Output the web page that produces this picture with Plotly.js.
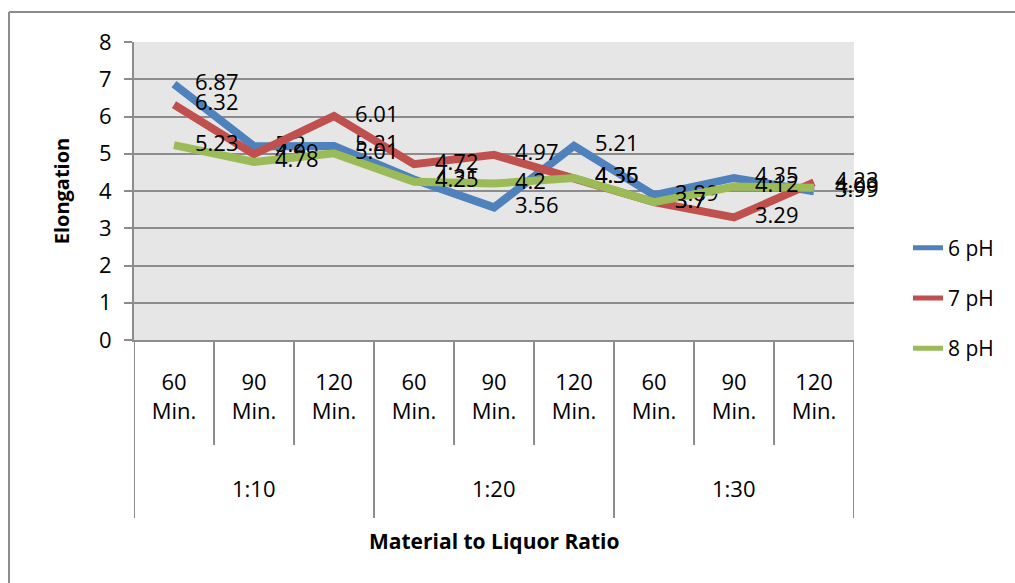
<!DOCTYPE html>
<html>
<head>
<meta charset="utf-8">
<script src="https://cdn.plot.ly/plotly-3.0.1.min.js"></script>
<style>html,body{margin:0;padding:0;background:#fff;}#chart{width:1015px;height:583px;}</style>
</head>
<body>
<div id="chart"></div>
<script>
// Data
const timeLabels = ["60<br>Min.", "90<br>Min.", "120<br>Min.", "60<br>Min.", "90<br>Min.", "120<br>Min.", "60<br>Min.", "90<br>Min.", "120<br>Min."];
const ratioGroups = ["1:10", "1:20", "1:30"];
const groupSize = 3;
const pH6 = [6.87, 5.2, 5.21, 4.31, 3.56, 5.21, 3.89, 4.35, 3.99];
const pH7 = [6.32, 4.99, 6.01, 4.72, 4.97, 4.36, 3.7, 3.29, 4.23];
const pH8 = [5.23, 4.78, 5.01, 4.25, 4.2, 4.35, 3.7, 4.12, 4.09];
const seriesNames = ["6 pH", "7 pH", "8 pH"];
const seriesColors = ["#4F81BD", "#C0504D", "#9BBB59"];

const FONT = "Open Sans, Noto Sans, sans-serif";
const xs = timeLabels.map((_, i) => i);

function mk(vals, idx) {
  return {
    x: xs, y: vals, name: seriesNames[idx], type: "scatter",
    mode: "lines+markers+text",
    line: {color: seriesColors[idx], width: 8},
    marker: {size: 32, color: "rgba(0,0,0,0)"},
    text: vals.map(v => String(v)),
    textposition: "middle right",
    textfont: {family: FONT, size: 22, color: "#000"},
    cliponaxis: false,
    showlegend: false
  };
}
function legendEntry(idx) {
  return {
    x: [null], y: [null], name: seriesNames[idx], type: "scatter", mode: "lines",
    line: {color: seriesColors[idx], width: 5}, showlegend: true, legendgroup: "g" + idx
  };
}
const data = [mk(pH6, 0), mk(pH7, 1), mk(pH8, 2), legendEntry(0), legendEntry(1), legendEntry(2)];

// plot area px: left 134, right 854, top 42, bottom 340
const plotH = 298;
const py = p => (340 - p) / plotH;
const px = p => (p - 134) / 720;

const shapes = [];
const n = timeLabels.length;
for (let k = 0; k <= n; k++) {
  const isGroup = (k % groupSize === 0);
  shapes.push({type: "line", xref: "x", yref: "paper", x0: k - 0.5, x1: k - 0.5,
    y0: 0, y1: isGroup ? py(518) : py(445), line: {color: "#8c8c8c", width: 2}});
}
// outer frame
shapes.push({type: "line", xref: "paper", yref: "paper", x0: px(9), x1: px(1015), y0: py(12), y1: py(12), line: {color: "#8c8c8c", width: 2}});
shapes.push({type: "line", xref: "paper", yref: "paper", x0: px(9), x1: px(9), y0: py(12), y1: py(583), line: {color: "#8c8c8c", width: 2}});

const annotations = ratioGroups.map((g, gi) => ({
  text: g, xref: "x", yref: "paper", x: gi * groupSize + (groupSize - 1) / 2, y: py(488),
  showarrow: false, xanchor: "center", yanchor: "middle",
  font: {family: FONT, size: 22, color: "#000"}
}));
annotations.push({
  text: "<b>Material to Liquor Ratio</b>", xref: "paper", yref: "paper", x: 0.5, y: py(541),
  showarrow: false, xanchor: "center", yanchor: "middle",
  font: {family: FONT, size: 21, color: "#000"}
});

const layout = {
  width: 1015, height: 583,
  margin: {l: 134, r: 161, t: 42, b: 243},
  paper_bgcolor: "#fff", plot_bgcolor: "#e6e6e6",
  font: {family: FONT, color: "#000"},
  showlegend: true,
  legend: {x: px(908), xanchor: "left", y: py(298), yanchor: "middle",
    font: {family: FONT, size: 21, color: "#000"}, tracegroupgap: 20, bgcolor: "rgba(0,0,0,0)"},
  xaxis: {
    range: [-0.5, n - 0.5], tickmode: "array", tickvals: xs, ticktext: timeLabels,
    showgrid: false, zeroline: false, showline: true, linecolor: "#8c8c8c", linewidth: 2,
    ticks: "", tickfont: {family: FONT, size: 22, color: "#000"}, ticklabelstandoff: 22,
    fixedrange: true
  },
  yaxis: {
    range: [0, 8], dtick: 1, tick0: 0, showgrid: true, gridcolor: "#8c8c8c", gridwidth: 2,
    zeroline: false, showline: true, linecolor: "#8c8c8c", linewidth: 2,
    ticks: "outside", ticklen: 8, tickcolor: "#8c8c8c", tickwidth: 2,
    tickfont: {family: FONT, size: 22, color: "#000"}, ticklabelstandoff: 8,
    title: {text: "<b>Elongation</b>", font: {family: FONT, size: 20, color: "#000"}, standoff: 24},
    fixedrange: true
  },
  shapes: shapes,
  annotations: annotations
};

Plotly.newPlot("chart", data, layout, {displayModeBar: false, staticPlot: true});
</script>
</body>
</html>
